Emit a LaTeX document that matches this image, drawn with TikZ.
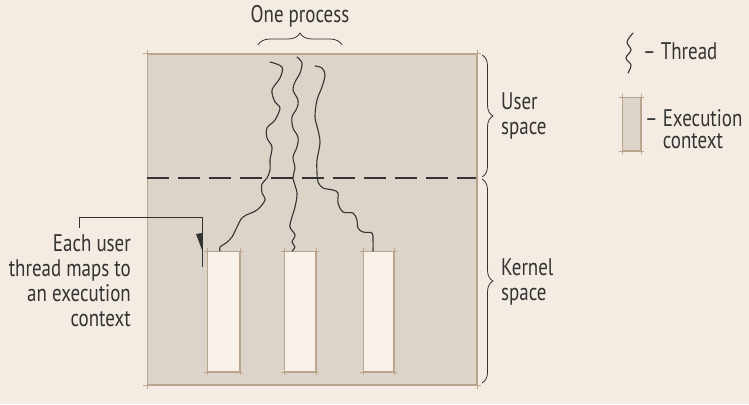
\documentclass[tikz,border=0pt]{standalone}
\usepackage{fontspec}
\setmainfont[FakeStretch=0.79]{PT Sans}
\usetikzlibrary{decorations.pathreplacing}
\definecolor{pagebg}{HTML}{F4ECE3}
\definecolor{panelfill}{HTML}{DDD4C9}
\definecolor{edgecol}{HTML}{B9A48D}
\definecolor{boxfill}{HTML}{F7F1EA}
\definecolor{ink}{HTML}{333333}
\begin{document}
\begin{tikzpicture}[x=1pt,y=-1pt,
  lbl/.style={font=\fontsize{24}{25}\selectfont, text=ink, inner sep=0pt},
  thread/.style={draw=ink, line width=1.1pt, line join=round, line cap=round},
  panelbox/.style={fill=panelfill, draw=edgecol, line width=1.2pt, inner sep=0pt, anchor=north west},
  ctx/.style={fill=boxfill, draw=edgecol, line width=1pt, inner sep=0pt, anchor=north west, minimum height=120pt},
  tick/.style={draw=edgecol, line width=1pt},
  brc/.style={decorate, decoration={brace, amplitude=12pt}, draw=ink, line width=0.8pt},
  dashline/.style={draw=ink, line width=1.1pt, dash pattern=on 22pt off 9pt},
  pointer/.style={draw=ink, line width=0.9pt}]
\fill[pagebg] (0,0) rectangle (749,404);
\useasboundingbox (0,0) rectangle (749,404);

% main panel
\node[panelbox, minimum width=329pt, minimum height=330pt] (panel) at (147,54) {};
% execution contexts
\node[ctx, minimum width=32pt] (b1) at (207,251) {};
\node[ctx, minimum width=31pt] (b2) at (284,251) {};
\node[ctx, minimum width=30pt] (b3) at (363,251) {};
% legend box
\node[panelbox, line width=1pt, minimum width=18pt, minimum height=53pt] (lg) at (622,97) {};

% corner ticks (lines run slightly past the corners)
\foreach \n/\e in {panel/4pt, b1/3pt, b2/3pt, b3/3pt, lg/3pt}{
  \draw[tick] ([xshift=-\e]\n.north west) -- ([xshift=\e]\n.north east);
  \draw[tick] ([xshift=-\e]\n.south west) -- ([xshift=\e]\n.south east);
  \draw[tick] ([yshift=\e]\n.north west) -- ([yshift=-\e]\n.south west);
  \draw[tick] ([yshift=\e]\n.north east) -- ([yshift=-\e]\n.south east);
}

% user/kernel boundary
\coordinate (dl) at (147,178);
\coordinate (dr) at (476,178);
\draw[dashline] (dl) -- (dr);

% threads
\draw[thread] plot[smooth, tension=0.55] coordinates {(270,62) (282,67) (280,78) (272,90) (275,102) (280,108) (275,120) (267,128) (267,138) (272,147) (270,160) (270,170) (267,178) (262,184) (262,193) (265,200) (257,210) (243,217) (237,227) (232,237) (226,243) (220,247) (220,251)};
\draw[thread] plot[smooth, tension=0.55] coordinates {(297,57) (302,63) (300,73) (295,82) (293,90) (298,100) (297,108) (292,117) (293,128) (298,137) (297,147) (293,157) (295,168) (293,178) (297,193) (295,207) (292,217) (290,227) (295,235) (292,242) (295,247) (292,251)};
\draw[thread] plot[smooth, tension=0.55] coordinates {(315,66) (322,68) (325,75) (322,87) (317,100) (315,117) (318,130) (320,143) (317,160) (317,173) (318,182) (323,188) (333,190) (338,193) (338,203) (343,212) (353,213) (357,220) (358,228) (363,232) (372,233) (373,240) (373,251)};

% one process
\node[lbl] (proc) at (300,16) {One process};
\draw[brc] (258,45) -- (342,45);

% user / kernel space braces
\draw[brc, decoration={amplitude=11pt}] (482,55) -- (482,177);
\draw[brc, decoration={amplitude=11pt}] (482,179) -- (482,383);
\node[lbl, anchor=west, align=left] (us) at (501,116) {User\\space};
\node[lbl, anchor=west, align=left] (ks) at (501,282) {Kernel\\space};

% annotation
\node[lbl, anchor=east, align=right] (note) at (131,281) {Each user\\thread maps to\\an execution\\context};
\coordinate (ann) at (79,228);
\draw[pointer] (ann) -- (79,217) -- (202,217) -- ([xshift=-5pt,yshift=-16pt]b1.north west);
\fill[ink] ([xshift=-5pt,yshift=1pt]b1.north west) -- ([xshift=-5pt,yshift=18pt]b1.north west) -- ([xshift=-11pt,yshift=17pt]b1.north west) -- cycle;

% legend
\draw[thread] plot[smooth, tension=0.6] coordinates {(633,33) (627,42) (631,50) (626,58) (631,65) (628,73)};
\node[lbl, anchor=west] (lt) at (643,51) {– Thread};
\node[lbl, anchor=west, align=left] (le) at (645,129) {– Execution\\[-3pt]\phantom{– }context};
\end{tikzpicture}
\end{document}
